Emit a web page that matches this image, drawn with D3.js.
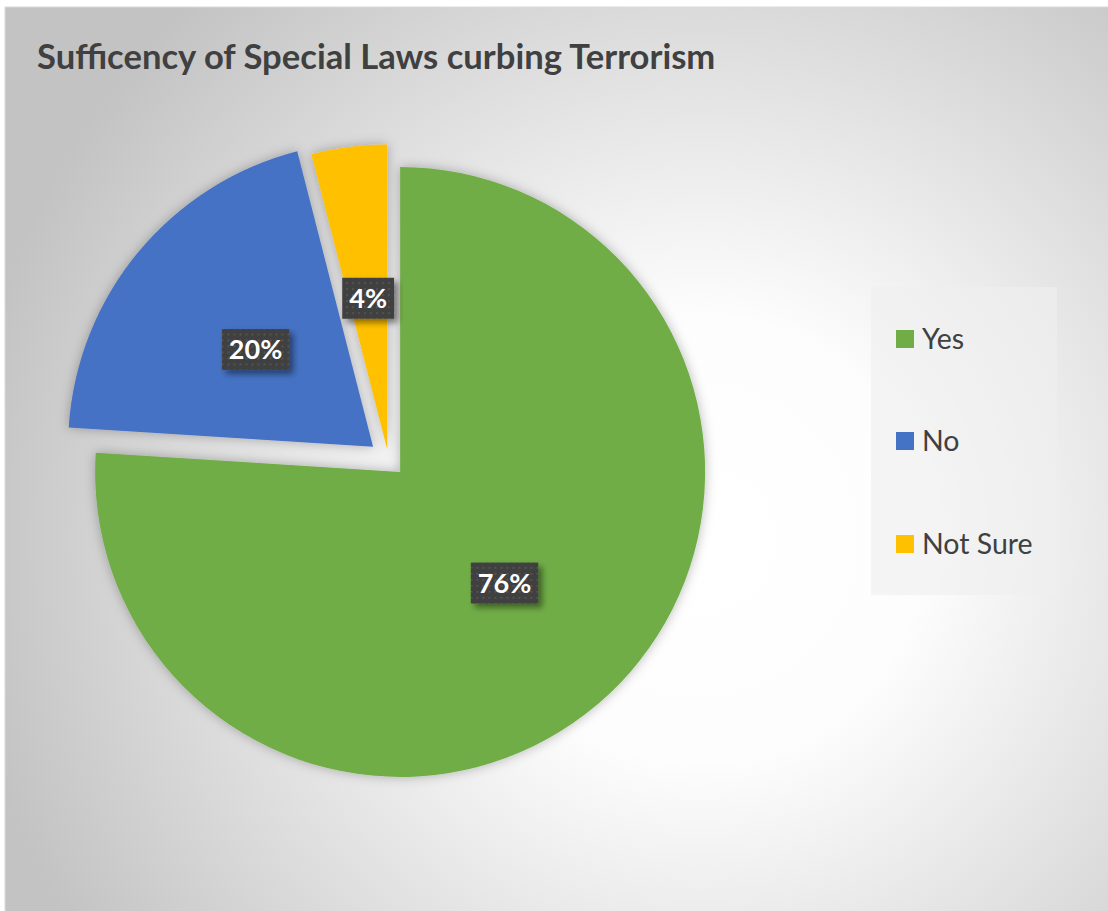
<!DOCTYPE html>
<html>
<head>
<meta charset="utf-8">
<script src="https://cdn.jsdelivr.net/npm/d3@7"></script>
<style>
  html, body { margin: 0; padding: 0; background: #ffffff; }
  svg { display: block; }
</style>
</head>
<body>
<svg id="chart" width="1108" height="911"></svg>
<script>
// Survey answers and their shares (percent)
const categories = ["Yes", "No", "Not Sure"];
const values = [76, 20, 4];
const colors = ["#70ad47", "#4472c4", "#ffc000"];
const titleText = "Sufficency of Special Laws curbing Terrorism";

// Layout
const W = 1108, H = 911;
const frame = { x: 5, y: 7 };
const pieCenter = [388.5, 459.5];
const radius = 305;
const explode = [17, 20, 10]; // per-slice offset along its mid-angle

const svg = d3.select("#chart");
const defs = svg.append("defs");

// Radial background fill of the chart area
const bg = defs.append("radialGradient")
  .attr("id", "bgGrad")
  .attr("gradientUnits", "userSpaceOnUse")
  .attr("cx", 700).attr("cy", 540).attr("r", 740);
bg.append("stop").attr("offset", 0).attr("stop-color", "#ffffff");
bg.append("stop").attr("offset", 0.3).attr("stop-color", "#fdfdfd");
bg.append("stop").attr("offset", 1).attr("stop-color", "#c3c3c3");

// Soft shadow around the slices
const sliceShadow = defs.append("filter").attr("id", "sliceShadow")
  .attr("x", "-20%").attr("y", "-20%").attr("width", "140%").attr("height", "140%");
sliceShadow.append("feDropShadow")
  .attr("dx", 0).attr("dy", 0).attr("stdDeviation", 6)
  .attr("flood-color", "#000").attr("flood-opacity", 0.28);

// Shadow under the data label boxes
const labelShadow = defs.append("filter").attr("id", "labelShadow")
  .attr("x", "-30%").attr("y", "-30%").attr("width", "170%").attr("height", "170%");
labelShadow.append("feDropShadow")
  .attr("dx", 4).attr("dy", 4).attr("stdDeviation", 3)
  .attr("flood-color", "#000").attr("flood-opacity", 0.45);

// Dotted texture for the label boxes
const dots = defs.append("pattern").attr("id", "dots")
  .attr("patternUnits", "userSpaceOnUse").attr("width", 6).attr("height", 6);
dots.append("rect").attr("width", 6).attr("height", 6).attr("fill", "#404040");
dots.append("rect").attr("x", 2).attr("y", 2).attr("width", 1.6).attr("height", 1.6).attr("fill", "#5c5c5c");

// Chart area
svg.append("rect")
  .attr("x", frame.x).attr("y", frame.y)
  .attr("width", W - frame.x + 2).attr("height", H - frame.y + 2)
  .attr("fill", "url(#bgGrad)")
  .attr("stroke", "#d9d9d9").attr("stroke-width", 1);

// Title
svg.append("text")
  .attr("x", 37).attr("y", 69)
  .attr("font-family", "Lato, 'Open Sans', sans-serif")
  .attr("font-weight", 700)
  .attr("font-size", 34.6)
  .attr("fill", "#404040")
  .text(titleText);

// Pie
const pie = d3.pie().sort(null).value(d => d)(values);
const arc = d3.arc().innerRadius(0).outerRadius(radius);

const offsetOf = (d, i) => {
  const mid = (d.startAngle + d.endAngle) / 2;
  return [Math.sin(mid) * explode[i], -Math.cos(mid) * explode[i]];
};

const gPie = svg.append("g")
  .attr("transform", `translate(${pieCenter[0]},${pieCenter[1]})`);

gPie.selectAll("path.slice")
  .data(pie)
  .join("path")
  .attr("class", "slice")
  .attr("d", arc)
  .attr("fill", (d, i) => colors[i])
  .attr("filter", "url(#sliceShadow)")
  .attr("transform", (d, i) => {
    const o = offsetOf(d, i);
    return `translate(${o[0]},${o[1]})`;
  });

// Data labels: dark boxes at half radius along each slice's mid-angle
const labelArc = d3.arc().innerRadius(radius / 2).outerRadius(radius / 2);
const labels = gPie.selectAll("g.label")
  .data(pie)
  .join("g")
  .attr("class", "label")
  .attr("transform", (d, i) => {
    const o = offsetOf(d, i);
    const c = labelArc.centroid(d);
    return `translate(${c[0] + o[0]},${c[1] + o[1]})`;
  });

labels.each(function (d, i) {
  const g = d3.select(this);
  const t = g.append("text")
    .attr("text-anchor", "middle")
    .attr("y", 9.5)
    .attr("font-family", "Lato, 'Open Sans', sans-serif")
    .attr("font-weight", 700)
    .attr("font-size", 27)
    .attr("fill", "#ffffff")
    .text(values[i] + "%");
  const w = t.node().getComputedTextLength() + 14;
  const h = 41;
  g.insert("rect", "text")
    .attr("x", -w / 2).attr("y", -h / 2)
    .attr("width", w).attr("height", h)
    .attr("fill", "url(#dots)")
    .attr("filter", "url(#labelShadow)");
});

// Legend
const legend = svg.append("g");
legend.append("rect")
  .attr("x", 871).attr("y", 287)
  .attr("width", 186).attr("height", 308)
  .attr("fill", "#efefef").attr("fill-opacity", 0.62);

const legendBaselines = [349, 451, 554];
const items = legend.selectAll("g.item")
  .data(categories)
  .join("g")
  .attr("class", "item")
  .attr("transform", (d, i) => `translate(896,${legendBaselines[i]})`);
items.append("rect")
  .attr("x", 0).attr("y", -19)
  .attr("width", 18).attr("height", 18)
  .attr("fill", (d, i) => colors[i]);
items.append("text")
  .attr("x", 26).attr("y", 0)
  .attr("font-family", "Lato, 'Open Sans', sans-serif")
  .attr("font-size", 28.5)
  .attr("fill", "#404040")
  .text(d => d);
</script>
</body>
</html>
